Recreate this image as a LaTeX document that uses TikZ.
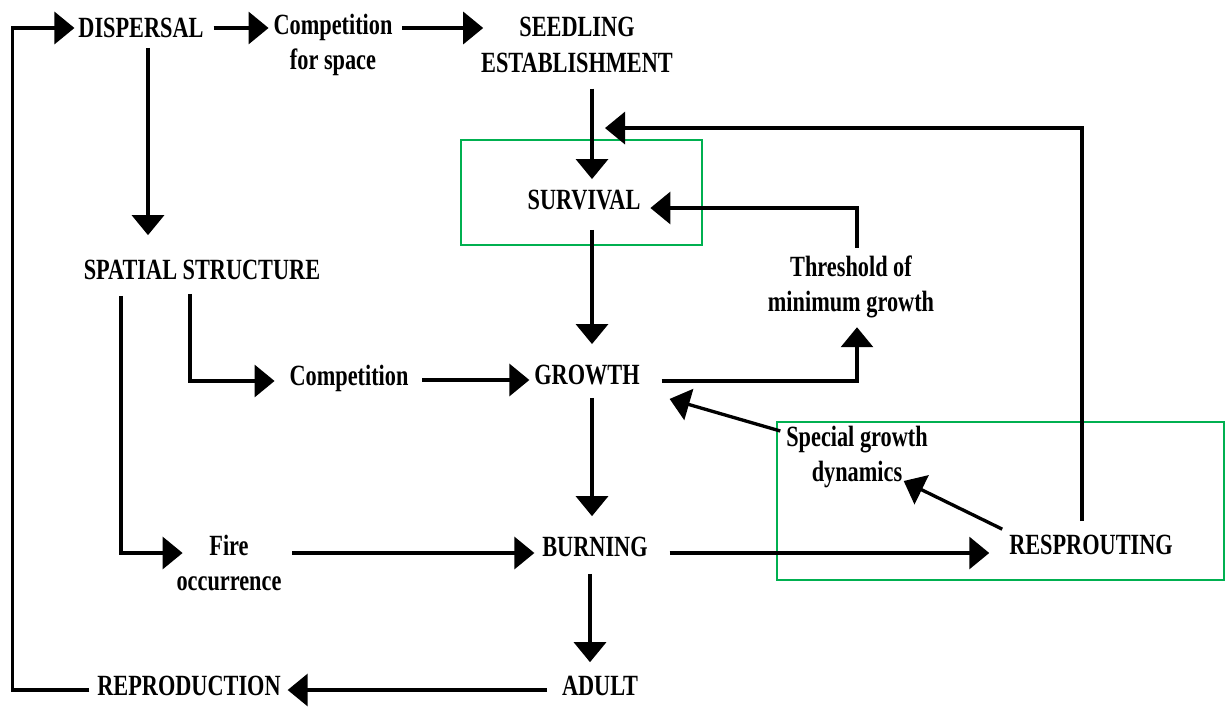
\documentclass[tikz,border=0pt]{standalone}
\usepackage{fontspec}
\setmainfont{Liberation Serif}[FakeStretch=0.76]
\usetikzlibrary{arrows.meta,calc}
\begin{document}
\begin{tikzpicture}[x=0.75pt,y=-0.75pt,
  lbl/.style={inner sep=0pt,outer sep=0pt,align=center,font=\fontsize{22}{26.5}\selectfont\bfseries},
  arr/.style={line width=2.5pt,-{Triangle[length=15pt,width=24pt]}},
  gbox/.style={draw={rgb,255:red,0;green,176;blue,80},line width=1.6pt}]
\useasboundingbox (0,0) rectangle (1230,713);
\fill[white] (0,0) rectangle (1230,713);
% nodes
\node[lbl] (disp) at (141,28) {DISPERSAL};
\node[lbl] (cfs) at (333,45) {Competition\\for space};
\node[lbl] (seed) at (577,45) {SEEDLING\\ESTABLISHMENT};
\node[lbl] (surv) at (584,200) {SURVIVAL};
\node[lbl] (thr) at (851,287) {Threshold of\\minimum growth};
\node[lbl] (spat) at (202,270) {SPATIAL STRUCTURE};
\node[lbl] (comp) at (349,378) {Competition};
\node[lbl] (grow) at (587,375) {GROWTH};
\node[lbl] (sgd) at (857,457) {Special growth\\dynamics};
\node[lbl] (fire) at (229,563) {Fire\\occurrence};
\node[lbl] (burn) at (595,547) {BURNING};
\node[lbl] (resp) at (1091,545) {RESPROUTING};
\node[lbl] (repr) at (189,686) {REPRODUCTION};
\node[lbl] (adult) at (600,686) {ADULT};
% green highlight boxes
\draw[gbox] (461,140) rectangle (702,245);
\draw[gbox] (777,422) rectangle (1224,580);
% connectors
\draw[arr] ($(repr.west)+(-8,4)$) -- ++(-77,0) |- ($(disp.west)+(-4,0)$);
\draw[arr] ($(disp.east)+(10,0)$) -- ($(disp.east -| cfs.west)+(-5,0)$);
\draw[arr] ($(disp.east -| cfs.east)+(10,0)$) -- ($(disp.east -| seed.west)+(2,0)$);
\draw[arr] ($(disp.south)+(7,10)$) -- ($(disp.south |- spat.north)+(7,-25)$);
\draw[arr] ($(seed.south)+(15,16)$) -- ($(seed.south |- surv.north)+(15,-11)$);
\draw[arr] ($(resp.north)+(-9,-14)$) |- ($(surv.north)+(21,-62)$);
\draw[arr] ($(surv.south)+(8,20)$) -- ($(surv.south |- grow.north)+(8,-21)$);
\draw[arr] ($(thr.north)+(6,-8)$) |- ($(surv.east)+(10,8)$);
\draw[arr] ($(grow.east)+(22,6)$) -| ($(thr.south)+(6,9)$);
\draw[arr] ($(spat.south)+(-12,14)$) |- ($(comp.west)+(-15,3)$);
\draw[arr] ($(comp.east)+(14,2)$) -- ($(comp.east -| grow.west)+(-5,2)$);
\draw[arr] ($(sgd.north west)+(-6,5)$) -- ($(grow.south east)+(30,14)$);
\draw[arr] ($(resp.north west)+(-7,-6)$) -- ($(sgd.south east)+(-24,-7)$);
\draw[arr] ($(grow.south)+(5,13)$) -- ($(grow.south |- burn.north)+(5,-21)$);
\draw[arr] ($(spat.south)+(-81,16)$) |- ($(fire.west)+(6,-10)$);
\draw[arr] ($(fire.east)+(11,-10)$) -- ($(fire.east -| burn.west)+(-8,-10)$);
\draw[arr] ($(burn.east)+(22,6)$) -- ($(burn.east -| resp.west)+(-20,6)$);
\draw[arr] ($(burn.south)+(-5,17)$) -- ($(burn.south |- adult.north)+(-5,-14)$);
\draw[arr] ($(adult.west)+(-15,4)$) -- ($(adult.west -| repr.east)+(7,4)$);
\end{tikzpicture}
\end{document}
